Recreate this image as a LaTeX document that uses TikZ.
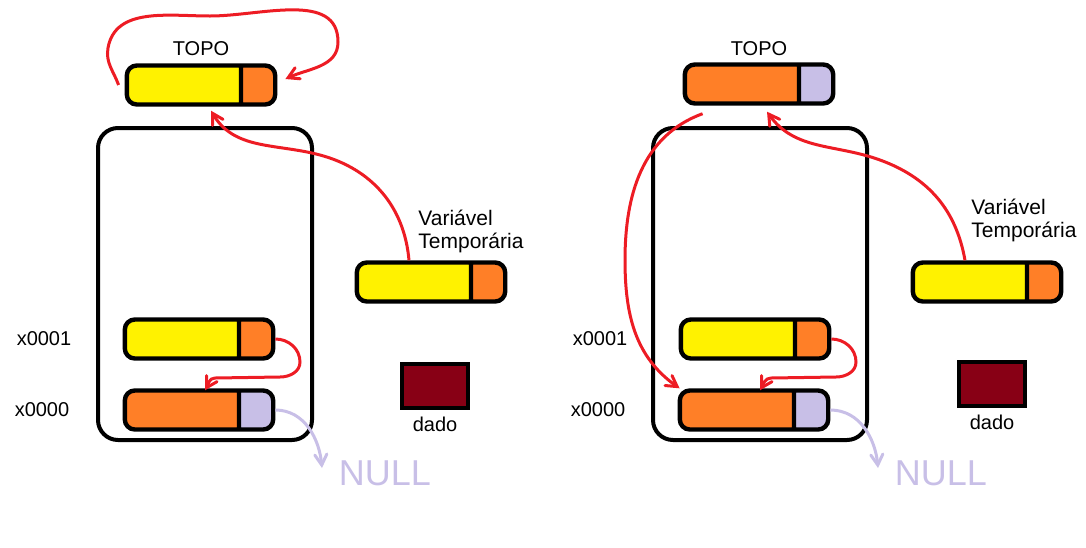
\documentclass[tikz,border=0pt]{standalone}
\usepackage{fontspec}
\setmainfont{Liberation Sans}
\usepackage{tikz}
\usetikzlibrary{arrows,shapes,shapes.multipart,positioning}
\usepackage{xcolor}
\definecolor{mpyellow}{RGB}{255,242,0}
\definecolor{mporange}{RGB}{255,127,39}
\definecolor{mplavender}{RGB}{200,191,231}
\definecolor{mpred}{RGB}{237,28,36}
\definecolor{mpdarkred}{RGB}{136,0,21}
\tikzstyle{arrow} = [line width=1.5pt,->,>=angle 60,color=mpred]
\tikzstyle{nullarrow} = [line width=1.5pt,->,>=angle 60,color=mplavender]
\tikzstyle{stack} = [rectangle, rounded corners=10pt, minimum width=107pt, minimum height=156pt, draw, line width=2pt]
\tikzstyle{cell} = [rectangle split, rectangle split horizontal, rectangle split parts=2, rectangle split draw splits=true, draw, line width=2.2pt, rounded corners=5pt, inner sep=0pt, minimum height=19.5pt]
\tikzstyle{dado} = [rectangle, draw, line width=2.2pt, fill=mpdarkred, minimum width=33pt, minimum height=22pt]
\tikzstyle{txt} = [font=\fontsize{10}{11.5}\selectfont, inner sep=0pt]
\tikzstyle{nulltxt} = [font=\fontsize{18}{18}\selectfont, text=mplavender, inner sep=0pt]
\newcommand{\datapart}{\rule{56pt}{0pt}}
\newcommand{\ptrpart}{\rule{16pt}{0pt}}

\begin{document}
\begin{tikzpicture}[x=0.5pt,y=0.5pt]
\useasboundingbox (0,0) rectangle (1086,-547);

% Left stack
\node (stackL) [stack] at (205,-284) {};
\node (topoL) [cell, rectangle split part fill={mpyellow,mporange}] at (201,-85) {\datapart\nodepart{two}\ptrpart};
\node (topoLtxt) [txt, above of=topoL, node distance=18pt] {TOPO};
\node (tempL) [cell, rectangle split part fill={mpyellow,mporange}] at (431,-282) {\datapart\nodepart{two}\ptrpart};
\node (tempLtxt) [txt, font=\fontsize{10.5}{11.5}\selectfont, align=left, anchor=west] at (418,-231) {Variável\\Temporária};
\node (c1L) [cell, rectangle split part fill={mpyellow,mporange}] at (199,-339) {\datapart\nodepart{two}\ptrpart};
\node (c0L) [cell, rectangle split part fill={mporange,mplavender}] at (199,-410) {\datapart\nodepart{two}\ptrpart};
\node (c1Ltxt) [txt, left of=c1L, node distance=77.5pt] {x0001};
\node (c0Ltxt) [txt, left of=c0L, node distance=78.5pt] {x0000};
\node (dadoL) [dado] at (435,-386) {};
\node (dadoLtxt) [txt, below of=dadoL, node distance=19pt] {dado};
\node (nullL) [nulltxt] at (385,-473) {NULL};
\coordinate (nullptrL) at (322,-468);

% Left pointers
\draw[arrow] ([xshift=-3pt]topoL.west) to[out=110,in=-100] (108,-48) to[out=80,in=180] (210,-16) to[out=0,in=90] (338,-42) to[out=-90,in=25] ([xshift=4pt,yshift=3pt]topoL.east);
\draw[arrow] ([xshift=-11pt]tempL.north) to[out=95,in=-15] (320,-155) to[out=165,in=-60] ([xshift=5pt,yshift=-2pt]topoL.south);
\draw[arrow] (c1L.east) to[out=0,in=90] (300,-362) to[out=-90,in=0] (280,-377) -- (215,-378) to[out=180,in=60] ([xshift=3pt,yshift=-1pt]c0L.north);
\draw[nullarrow] (c0L.east) to[out=0,in=95] (nullptrL);

% Right stack
\node (stackR) [stack] at (760,-284) {};
\node (topoR) [cell, rectangle split part fill={mporange,mplavender}] at (759,-84) {\datapart\nodepart{two}\ptrpart};
\node (topoRtxt) [txt, above of=topoR, node distance=17.5pt] {TOPO};
\node (tempR) [cell, rectangle split part fill={mpyellow,mporange}] at (987,-282) {\datapart\nodepart{two}\ptrpart};
\node (tempRtxt) [txt, font=\fontsize{10.5}{11.5}\selectfont, align=left, anchor=west] at (971,-220) {Variável\\Temporária};
\node (c1R) [cell, rectangle split part fill={mpyellow,mporange}] at (755,-339) {\datapart\nodepart{two}\ptrpart};
\node (c0R) [cell, rectangle split part fill={mporange,mplavender}] at (754,-410) {\datapart\nodepart{two}\ptrpart};
\node (c1Rtxt) [txt, left of=c1R, node distance=77.5pt] {x0001};
\node (c0Rtxt) [txt, left of=c0R, node distance=78pt] {x0000};
\node (dadoR) [dado] at (992,-384) {};
\node (dadoRtxt) [txt, below of=dadoR, node distance=19pt] {dado};
\node (nullR) [nulltxt] at (941,-473) {NULL};
\coordinate (nullptrR) at (878,-468);

% Right pointers
\draw[arrow] ([xshift=-11pt]tempR.north) to[out=100,in=-20] (880,-160) to[out=160,in=-55] ([xshift=4pt,yshift=-3pt]topoR.south);
\draw[arrow] ([xshift=10pt,yshift=-4pt]topoR.south west) to[out=200,in=90] (625,-260) to[out=-90,in=145] ([xshift=1pt]c0R.north west);
\draw[arrow] (c1R.east) to[out=0,in=90] (856,-362) to[out=-90,in=0] (836,-377) -- (771,-378) to[out=180,in=60] ([xshift=3pt,yshift=-1pt]c0R.north);
\draw[nullarrow] (c0R.east) to[out=0,in=95] (nullptrR);
\end{tikzpicture}
\end{document}
